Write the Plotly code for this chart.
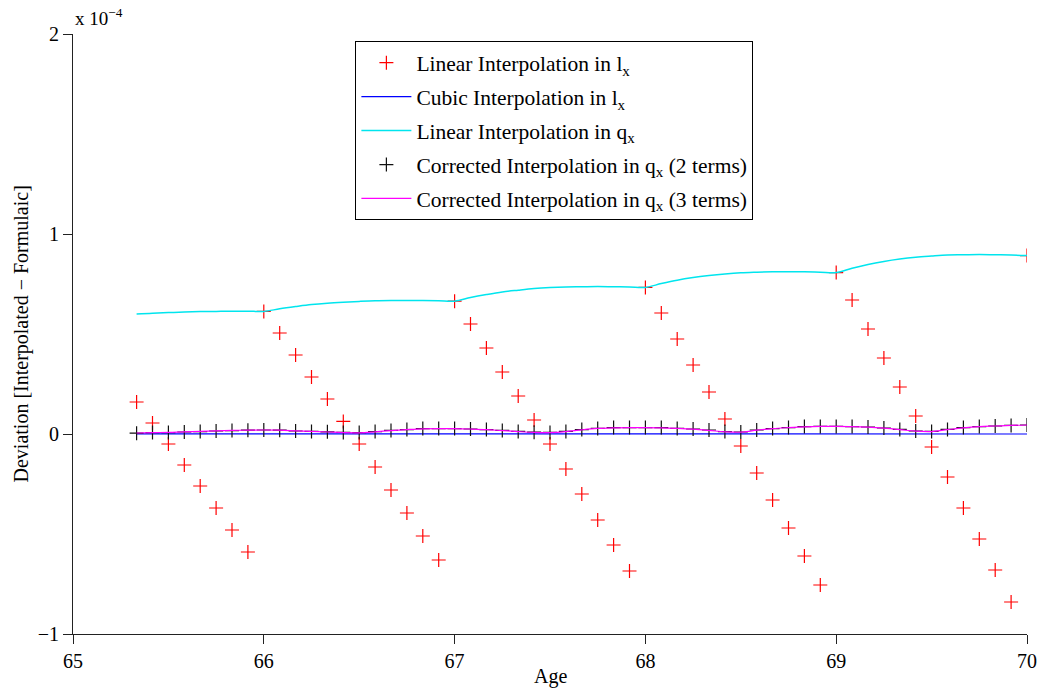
import plotly.graph_objects as go

# Ages: monthly steps from 65 4/12 to 70
ages = [65 + k / 12 for k in range(4, 61)]

# Deviations in units of 1e-4
linear_lx = [
    0.160, 0.055, -0.050, -0.155, -0.260, -0.370, -0.480, -0.590,
    0.613, 0.505, 0.395, 0.285, 0.175, 0.063, -0.050, -0.165, -0.280, -0.395, -0.510, -0.630,
    0.664, 0.550, 0.430, 0.310, 0.190, 0.070, -0.050, -0.175, -0.300, -0.430, -0.555, -0.685,
    0.733, 0.605, 0.475, 0.345, 0.210, 0.075, -0.060, -0.195, -0.330, -0.470, -0.610, -0.755,
    0.807, 0.670, 0.525, 0.380, 0.235, 0.090, -0.065, -0.215, -0.370, -0.525, -0.680, -0.840,
    0.892,
]

cubic_lx = [
    0.001, 0.001, 0.001, 0.001, 0.001, 0.001, 0.001, 0.001,
    0.001, 0.001, 0.000, 0.000, 0.000, 0.000, 0.000, 0.000, 0.000, 0.000, 0.000, 0.000,
    0.000, 0.000, 0.000, 0.000, 0.000, 0.000, 0.000, 0.000, 0.000, 0.000, 0.000, 0.000,
    0.000, 0.000, 0.000, 0.000, 0.000, 0.000, 0.000, 0.000, 0.000, 0.000, 0.000, 0.000,
    0.000, 0.000, 0.000, 0.000, 0.000, 0.000, 0.000, 0.000, 0.000, 0.000, 0.000, 0.000,
    0.000,
]

linear_qx = [
    0.600, 0.604, 0.607, 0.610, 0.612, 0.613, 0.614, 0.614,
    0.613, 0.626, 0.637, 0.647, 0.654, 0.659, 0.663, 0.666, 0.667, 0.667, 0.667, 0.666,
    0.664, 0.682, 0.697, 0.710, 0.719, 0.727, 0.732, 0.735, 0.736, 0.737, 0.736, 0.735,
    0.733, 0.752, 0.769, 0.782, 0.792, 0.800, 0.806, 0.809, 0.811, 0.811, 0.811, 0.809,
    0.807, 0.829, 0.848, 0.863, 0.875, 0.884, 0.890, 0.895, 0.896, 0.897, 0.896, 0.895,
    0.892,
]

corrected_2 = [
    0.004, 0.007, 0.007, 0.010, 0.012, 0.015, 0.017, 0.019,
    0.020, 0.019, 0.015, 0.013, 0.011, 0.008, 0.007, 0.012, 0.018, 0.022, 0.027, 0.027,
    0.027, 0.025, 0.022, 0.018, 0.013, 0.009, 0.008, 0.013, 0.022, 0.028, 0.032, 0.032,
    0.032, 0.032, 0.028, 0.025, 0.020, 0.012, 0.010, 0.020, 0.027, 0.032, 0.037, 0.038,
    0.038, 0.037, 0.035, 0.030, 0.023, 0.015, 0.013, 0.023, 0.032, 0.037, 0.040, 0.043,
    0.045,
]

corrected_3 = [
    0.005, 0.007, 0.008, 0.011, 0.013, 0.016, 0.018, 0.019,
    0.020, 0.019, 0.016, 0.013, 0.010, 0.007, 0.006, 0.011, 0.017, 0.022, 0.026, 0.027,
    0.027, 0.025, 0.022, 0.017, 0.012, 0.008, 0.007, 0.012, 0.021, 0.028, 0.031, 0.032,
    0.032, 0.031, 0.028, 0.024, 0.018, 0.011, 0.009, 0.019, 0.027, 0.032, 0.036, 0.038,
    0.038, 0.037, 0.034, 0.029, 0.022, 0.014, 0.012, 0.022, 0.031, 0.037, 0.040, 0.043,
    0.045,
]

x_ticks = [65, 66, 67, 68, 69, 70]
y_ticks = [-1, 0, 1, 2]
y_tick_labels = ["\u22121", "0", "1", "2"]

FONT = "Liberation Serif, Times New Roman, serif"

fig = go.Figure()
fig.add_trace(go.Scatter(
    x=ages, y=linear_lx, mode="markers", legendgroup="a",
    name="Linear Interpolation in l<sub>x</sub>",
    marker=dict(symbol="cross-thin-open", size=10, color="#ff0000",
                line=dict(color="#ff0000", width=1.2)),
))
fig.add_trace(go.Scatter(
    x=ages, y=cubic_lx, mode="lines", legendgroup="b",
    name="Cubic Interpolation in l<sub>x</sub>",
    line=dict(color="#0000ff", width=1.2),
))
fig.add_trace(go.Scatter(
    x=ages, y=linear_qx, mode="lines", line_shape="spline", legendgroup="c",
    name="Linear Interpolation in q<sub>x</sub>",
    line=dict(color="#00e5ee", width=1.5),
))
fig.add_trace(go.Scatter(
    x=ages, y=corrected_2, mode="markers", legendgroup="d",
    name="Corrected Interpolation in q<sub>x</sub> (2 terms)",
    marker=dict(symbol="cross-thin-open", size=10, color="#111111",
                line=dict(color="#111111", width=1.2)),
))
fig.add_trace(go.Scatter(
    x=ages, y=corrected_3, mode="lines", line_shape="spline", legendgroup="e",
    name="Corrected Interpolation in q<sub>x</sub> (3 terms)",
    line=dict(color="#ff00ff", width=1.2),
))

fig.update_layout(
    width=1049, height=695,
    margin=dict(l=73, r=15, t=34, b=61),
    paper_bgcolor="white", plot_bgcolor="white",
    font=dict(family=FONT, size=20, color="black"),
    showlegend=True,
    legend=dict(
        x=0.296, y=0.988, xanchor="left", yanchor="top",
        bgcolor="white", bordercolor="black", borderwidth=1,
        font=dict(family=FONT, size=21.5, color="black"),
        itemwidth=50, tracegroupgap=3,
    ),
    xaxis=dict(
        range=[65, 70], tickvals=x_ticks, ticktext=[str(v) for v in x_ticks],
        showgrid=False, zeroline=False, showline=True, linecolor="#222222", linewidth=1,
        ticks="outside", ticklen=9, tickcolor="#222222",
        tickfont=dict(family=FONT, size=20, color="black"),
    ),
    yaxis=dict(
        range=[-1, 2], tickvals=y_ticks, ticktext=y_tick_labels,
        showgrid=False, zeroline=False, showline=True, linecolor="#222222", linewidth=1,
        ticks="outside", ticklen=9, tickcolor="#222222",
        tickfont=dict(family=FONT, size=20, color="black"),
    ),
    annotations=[
        dict(text="Age", xref="paper", yref="paper", x=0.5, y=-0.07,
             xanchor="center", yanchor="middle", showarrow=False,
             font=dict(family=FONT, size=20, color="black")),
        dict(text="Deviation [Interpolated \u2212 Formulaic]", xref="paper", yref="paper",
             x=-0.054, y=0.5, xanchor="center", yanchor="middle", textangle=-90,
             showarrow=False, font=dict(family=FONT, size=20, color="black")),
        dict(text="x 10<sup>\u22124</sup>", xref="paper", yref="paper",
             x=0.0, y=1.005, xanchor="left", yanchor="bottom", showarrow=False,
             font=dict(family=FONT, size=19, color="black")),
    ],
)

fig.write_html("out.html")
